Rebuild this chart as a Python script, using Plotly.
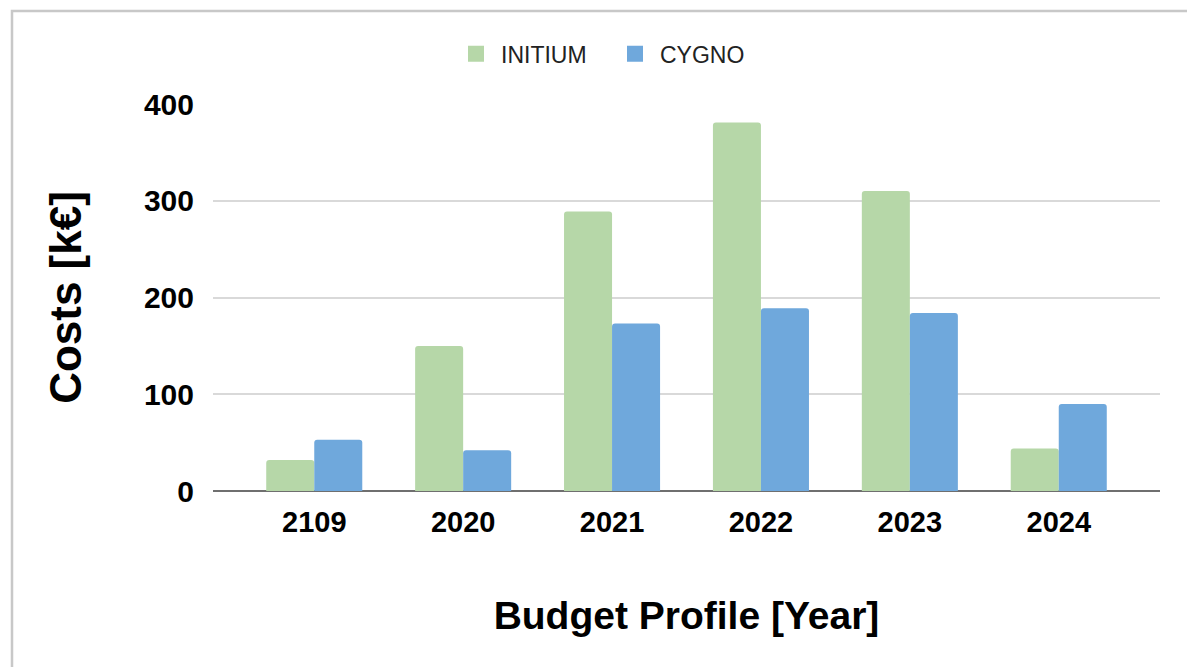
import plotly.graph_objects as go

years = ["2109", "2020", "2021", "2022", "2023", "2024"]
initium = [32, 150, 289, 381, 310, 44]
cygno = [53, 42, 173, 189, 184, 90]
y_ticks = [0, 100, 200, 300, 400]

FONT = "Liberation Sans, Arial, sans-serif"
GREEN, BLUE = "#b6d7a8", "#6fa8dc"

fig = go.Figure()
fig.add_trace(go.Bar(name="INITIUM", x=years, y=initium, showlegend=False,
                     legendgroup="INITIUM",
                     marker=dict(color=GREEN, cornerradius=3, line=dict(width=0))))
fig.add_trace(go.Bar(name="CYGNO", x=years, y=cygno, showlegend=False,
                     legendgroup="CYGNO",
                     marker=dict(color=BLUE, cornerradius=3, line=dict(width=0))))
# legend entries with larger square swatches (linked to the bars)
for name, col in [("INITIUM", GREEN), ("CYGNO", BLUE)]:
    fig.add_trace(go.Scatter(name=name, x=[None], y=[None], mode="markers",
                             legendgroup=name, showlegend=True, hoverinfo="skip",
                             marker=dict(symbol="square", size=22, color=col)))

W, H = 1187, 667
L, R, T, B = 213, 27, 104, 176

fig.update_layout(
    width=W, height=H,
    margin=dict(l=L, r=R, t=T, b=B, pad=0),
    paper_bgcolor="white", plot_bgcolor="white",
    barmode="group", bargap=0.355, bargroupgap=0.0,
    font=dict(family=FONT, color="#000000"),
    showlegend=True,
    legend=dict(orientation="h", x=(610 - L) / (W - L - R), xanchor="center",
                y=1.13, yanchor="middle",
                font=dict(size=23, color="#222222"), itemwidth=40,
                entrywidth=104, entrywidthmode="pixels",
                traceorder="normal"),
    xaxis=dict(
        type="category",
        range=[-0.68, 5.68],
        showgrid=False, zeroline=False,
        showline=False,
        ticks="", tickfont=dict(size=29, family=FONT, weight="bold"),
        ticklabelstandoff=11,
        title=dict(text="<b>Budget Profile [Year]</b>", font=dict(size=39), standoff=64),
    ),
    yaxis=dict(
        range=[0, 400], tickvals=y_ticks,
        showgrid=True, gridcolor="#d9d9d9", gridwidth=1.5,
        zeroline=True, zerolinecolor="#6f6f6f", zerolinewidth=2,
        showline=False, ticks="",
        tickfont=dict(size=30, family=FONT, weight="bold"),
        ticklabelstandoff=18,
        title=dict(text="<b>Costs [k€]</b>", font=dict(size=44), standoff=48),
    ),
)

# outer frame of the chart card
fig.add_shape(type="rect", xref="paper", yref="paper",
              x0=(12 - L) / (W - L - R), x1=(W + 20 - L) / (W - L - R),
              y0=-(H + 20 - (H - B)) / (H - T - B), y1=((H - B) - 11) / (H - T - B),
              line=dict(color="#c8c8c8", width=2.5), fillcolor="rgba(0,0,0,0)", layer="below")

fig.write_html("out.html")
